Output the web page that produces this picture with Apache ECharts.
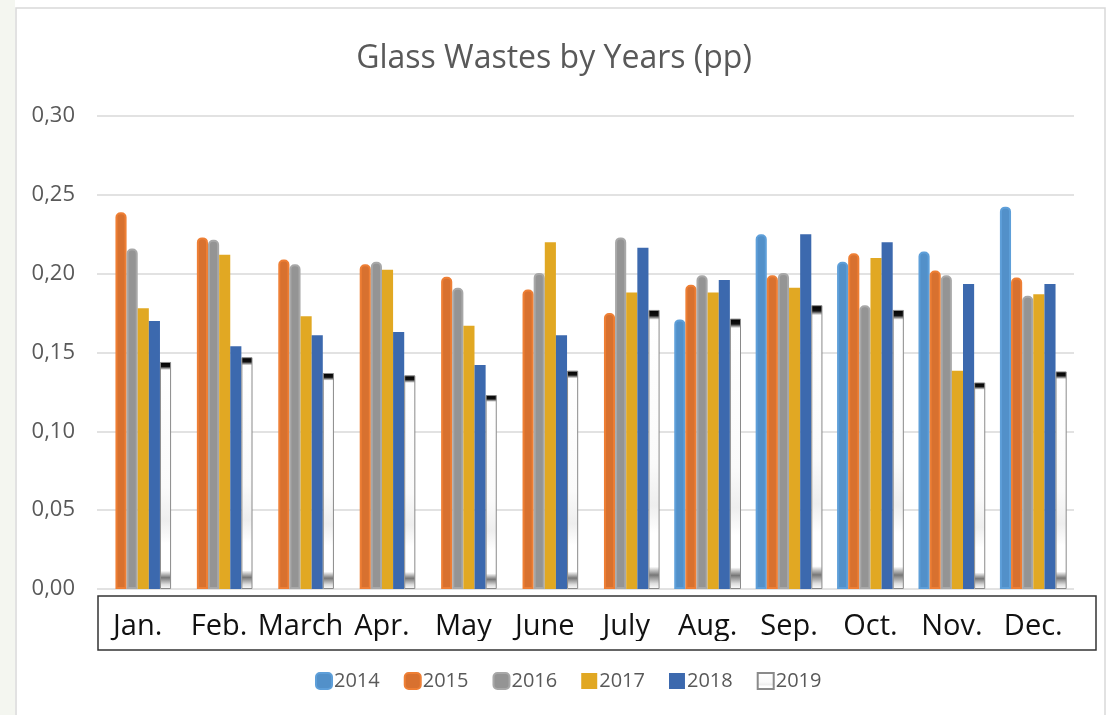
<!DOCTYPE html>
<html>
<head>
<meta charset="utf-8">
<script src="https://cdn.jsdelivr.net/npm/echarts@6/dist/echarts.min.js"></script>
<style>html,body{margin:0;padding:0;background:#fff;}#c{width:1108px;height:715px;}</style>
</head>
<body>
<div id="c"></div>
<script>
const categories = ['Jan.', 'Feb.', 'March', 'Apr.', 'May', 'June', 'July', 'Aug.', 'Sep.', 'Oct.', 'Nov.', 'Dec.'];
const years = ['2014', '2015', '2016', '2017', '2018', '2019'];
const y2014 = [null, null, null, null, null, null, null, 0.171, 0.225, 0.2075, 0.214, 0.2425];
const y2015 = [0.239, 0.223, 0.209, 0.206, 0.198, 0.190, 0.175, 0.193, 0.199, 0.213, 0.202, 0.1975];
const y2016 = [0.216, 0.2215, 0.206, 0.2075, 0.191, 0.2005, 0.223, 0.199, 0.2005, 0.180, 0.199, 0.186];
const y2017 = [0.178, 0.212, 0.173, 0.2025, 0.167, 0.220, 0.188, 0.188, 0.191, 0.210, 0.1385, 0.187];
const y2018 = [0.170, 0.154, 0.161, 0.163, 0.142, 0.161, 0.2165, 0.196, 0.225, 0.220, 0.1935, 0.1935];
const y2019 = [0.144, 0.147, 0.137, 0.1355, 0.123, 0.1385, 0.177, 0.1715, 0.180, 0.177, 0.131, 0.138];
const yTicks = [0, 0.05, 0.10, 0.15, 0.20, 0.25, 0.30];

const seriesData = [y2014, y2015, y2016, y2017, y2018, y2019];

const styles = [
  {color: '#5290c9', borderColor: '#5e9fd9', borderWidth: 2, borderRadius: [4, 4, 0, 0]},
  {color: '#d8712f', borderColor: '#ee7f35', borderWidth: 2, borderRadius: [4, 4, 0, 0]},
  {color: '#949494', borderColor: '#a8a8a8', borderWidth: 2, borderRadius: [4, 4, 0, 0]},
  {color: '#e1a823'},
  {color: '#3c69ae'},
  {
    color: {
      type: 'linear', x: 0, y: 0, x2: 0, y2: 1,
      colorStops: [
        {offset: 0, color: '#000'}, {offset: 0.02, color: '#111'},
        {offset: 0.035, color: '#ffffff'}, {offset: 0.55, color: '#fafafa'},
        {offset: 0.7, color: '#eeeeee'}, {offset: 0.8, color: '#ffffff'},
        {offset: 0.92, color: '#ffffff'}, {offset: 0.95, color: '#777777'},
        {offset: 0.98, color: '#dddddd'}, {offset: 1, color: '#ffffff'}
      ]
    },
    borderColor: '#8a8a8a', borderWidth: 1
  }
];

const chart = echarts.init(document.getElementById('c'), null, {renderer: 'canvas'});
const option = {
  animation: false,
  backgroundColor: '#fff',
  title: {
    text: 'Glass Wastes by Years (pp)',
    left: 'center',
    top: 38,
    textStyle: {fontFamily: 'Open Sans', fontSize: 32, fontWeight: 'normal', color: '#595959'}
  },
  legend: {
    data: years.map((y, i) => ({
      name: y,
      icon: i < 3 ? 'roundRect' : 'rect'
    })),
    left: 310,
    top: 666,
    itemWidth: 16,
    itemHeight: 16,
    itemGap: 24,
    textStyle: {fontFamily: 'Open Sans', fontSize: 20, color: '#595959', padding: [0, 0, 0, -3]}
  },
  grid: {left: 97, right: 34, top: 116, bottom: 126, containLabel: false},
  xAxis: {
    type: 'category',
    data: categories,
    axisLine: {show: false},
    axisTick: {show: false},
    axisLabel: {
      margin: 23,
      fontFamily: 'Open Sans',
      fontSize: 29,
      color: '#111',
      interval: 0
    }
  },
  yAxis: {
    type: 'value',
    min: 0,
    max: 0.3,
    interval: 0.05,
    axisLine: {show: false},
    axisTick: {show: false},
    splitLine: {lineStyle: {color: '#d9d9d9', width: 1.5}},
    axisLabel: {
      margin: 22,
      fontFamily: 'Open Sans',
      fontSize: 22,
      color: '#595959',
      formatter: v => v.toFixed(2).replace('.', ',')
    }
  },
  series: years.map((y, i) => ({
    name: y,
    type: 'bar',
    data: seriesData[i],
    barGap: '0%',
    barCategoryGap: '18%',
    itemStyle: styles[i]
  })),
  graphic: [
    {type: 'rect', z: -10, shape: {x: 0, y: 0, width: 15, height: 715}, style: {fill: '#f4f6f0'}},
    {type: 'rect', z: -9, shape: {x: 16, y: 8, width: 1089, height: 720}, style: {fill: 'none', stroke: '#d9d9d9', lineWidth: 1.5}},
    {type: 'rect', z: 100, shape: {x: 98, y: 641, width: 997, height: 8}, style: {fill: '#fff'}},
    {type: 'rect', z: 101, shape: {x: 98, y: 596, width: 998, height: 54}, style: {fill: 'none', stroke: '#333', lineWidth: 1.5}}
  ]
};
chart.setOption(option);
</script>
</body>
</html>
